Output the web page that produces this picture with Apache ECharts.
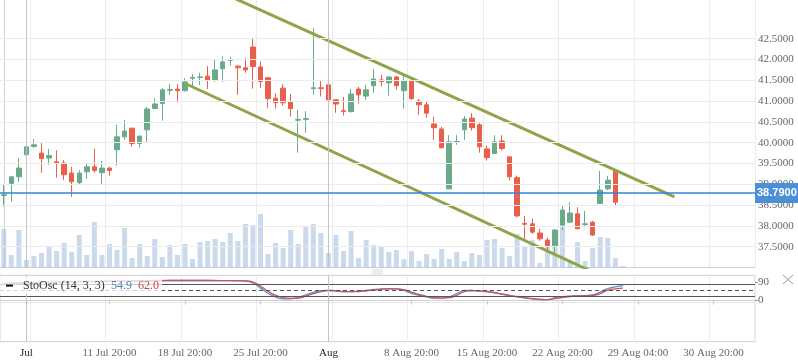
<!DOCTYPE html>
<html><head><meta charset="utf-8">
<script src="https://cdn.jsdelivr.net/npm/echarts@6/dist/echarts.min.js"></script>
<style>html,body{margin:0;padding:0;background:#fff}#c{width:798px;height:363px}</style>
</head><body><div id="c"></div>
<script>
// ---- data ----
const openP  = [38.73,39.02,39.18,39.71,39.91,39.75,39.63,39.54,39.51,39.27,39.04,39.30,39.42,39.28,39.39,39.83,40.14,40.35,39.98,40.31,40.82,40.94,41.26,41.29,41.25,41.55,41.57,41.60,41.51,41.78,41.98,41.84,41.80,42.30,41.82,41.56,41.07,41.31,40.98,40.54,40.56,41.30,41.32,41.39,41.03,40.77,40.75,41.29,41.12,41.37,41.51,41.44,41.58,41.25,41.48,41.00,40.91,40.45,40.33,38.89,40.01,40.31,40.59,40.43,39.85,39.74,40.04,39.66,39.16,38.06,38.05,37.83,37.66,37.52,38.02,38.09,38.29,38.03,38.09,38.54,38.89,39.32];
const closeP = [38.75,39.18,39.39,39.90,39.95,39.62,39.69,39.52,39.23,39.06,39.27,39.42,39.33,39.39,39.33,40.14,40.28,39.98,40.16,40.81,40.93,41.27,41.28,41.25,41.46,41.57,41.58,41.51,41.75,41.94,42.00,41.80,41.75,41.83,41.47,41.06,40.96,40.96,40.82,40.56,40.58,41.32,41.30,41.03,40.93,40.75,41.17,41.15,41.27,41.53,41.47,41.58,41.37,41.48,41.06,40.91,40.71,40.36,39.88,40.02,40.03,40.57,40.36,39.90,39.64,40.02,39.86,39.18,38.24,38.04,37.85,37.69,37.52,37.90,38.38,38.31,37.93,38.05,37.78,38.86,39.10,38.57];
const lowP   = [38.46,38.58,39.06,39.25,39.88,39.28,39.47,39.16,39.10,38.70,38.99,39.13,39.28,39.01,39.21,39.45,40.07,39.90,39.88,40.02,40.82,40.53,41.15,40.96,41.23,41.35,41.39,41.29,41.46,41.46,41.85,41.15,41.68,41.30,41.31,40.84,40.82,40.89,40.63,39.76,40.24,41.15,41.11,40.96,40.72,40.65,40.72,40.94,41.03,41.20,41.35,41.13,41.28,40.82,41.03,40.67,40.60,40.07,39.86,38.89,39.95,40.07,40.29,39.76,39.57,39.74,39.81,39.09,38.21,37.66,37.81,37.64,37.42,37.30,37.90,38.09,37.93,37.97,37.76,38.54,38.86,38.50];
const highP  = [39.00,39.18,39.63,39.99,40.09,39.99,39.85,39.82,39.58,39.42,39.34,39.51,39.85,39.56,39.42,40.43,40.55,40.35,40.16,40.86,41.07,41.31,41.41,41.41,41.55,41.65,41.68,41.84,41.99,42.08,42.07,41.87,42.04,42.52,41.96,41.56,41.19,41.41,41.17,40.79,40.76,42.76,41.51,41.63,41.03,41.10,41.29,41.34,41.39,41.77,41.63,41.60,41.60,41.60,41.53,41.05,41.00,40.62,40.38,40.18,40.18,40.64,40.71,40.47,39.93,40.18,40.18,39.66,39.21,38.24,38.17,37.93,37.71,37.93,38.50,38.57,38.45,38.36,38.12,39.32,39.20,39.34];
const volume = [385,125,375,75,115,145,215,165,245,155,325,125,455,125,235,175,395,95,235,115,285,105,225,125,235,85,255,265,285,255,345,265,435,425,535,135,245,195,375,235,415,435,345,145,325,165,365,95,275,225,215,155,175,85,165,65,135,85,185,85,155,65,145,125,275,285,195,115,335,215,275,45,245,375,425,65,255,65,195,305,295,95,15];
const stochK = [86,87,88,89,90,91,92,93,93,94,95,95,96,96,97,97,98,98,99,99,100,100,100,100,100,100,100,100,99,99,99,98,97,88,62,36,18,8,9,16,28,40,49,51,47,44,44,47,51,55,58,59,58,50,36,26,18,12,12,18,34,50,50,47,44,38,31,24,18,12,8,5,4,14,19,22,24,24,28,42,60,68,74];
const stochD = [84,86,87,88,89,90,91,92,92,93,94,94,95,95,96,96,97,97,98,98,99,99,100,100,100,100,100,100,100,99,99,99,98,92,72,46,26,14,10,12,22,34,44,50,49,45,44,45,48,52,56,58,58,54,42,30,21,14,12,14,26,44,49,48,45,40,33,26,20,14,10,6,4,9,15,20,22,24,25,34,52,58,62];
const priceTicks = [37.5,38.0,38.5,39.0,39.5,40.0,40.5,41.0,41.5,42.0,42.5];
const stochTicks = [0,90];
const stochLevels = [80,50,20];
const lastPrice = 38.79;
const upperChannel = [[28.0,43.68],[88.83,38.70]];
const lowerChannel = [[23.88,41.435],[84.0,36.39]];
const monthIdx = [3,43];
const tickIdx = [3,14,24,34,43,54,64,74,84,94];
const tickLabels = ['Jul','11 Jul 20:00','18 Jul 20:00','25 Jul 20:00','Aug','8 Aug 20:00','15 Aug 20:00','22 Aug 20:00','29 Aug 04:00','30 Aug 20:00'];
const nSlots = 100;
// ---------------------------------------
const categories = Array.from({length:nSlots},(_,i)=>String(i));
const candles = openP.map((o,i)=>[o,closeP[i],lowP[i],highP[i]]);
const UP='#6aaa8b', DOWN='#ea5f4c';
const SERIF='Liberation Serif';
const BLUE='#2f86dc';
const gridFn = (i)=> i%10===4;
const labFn = (i)=> tickIdx.indexOf(i)>=0;

const chart = echarts.init(document.getElementById('c'),null,{renderer:'canvas'});
chart.setOption({
  animation:false,
  backgroundColor:'#fff',
  grid:[
    {left:-1,right:43,top:0,height:267.5,show:false},
    {left:-1,right:43,top:275.3,height:66.4,show:true,borderColor:'#cfcfcf',borderWidth:1,backgroundColor:'transparent'}
  ],
  xAxis:[
    {type:'category',gridIndex:0,data:categories,boundaryGap:true,
     axisLine:{show:true,lineStyle:{color:'#cfcfcf'}},axisTick:{show:false},axisLabel:{show:false},
     splitLine:{show:true,interval:gridFn,lineStyle:{color:'#ececec',width:1}}},
    {type:'category',gridIndex:1,data:categories,boundaryGap:true,
     axisLine:{show:true,lineStyle:{color:'#cfcfcf'}},
     axisTick:{show:true,interval:labFn,alignWithLabel:true,length:4,lineStyle:{color:'#bbb'}},
     axisLabel:{show:true,interval:labFn,margin:6,fontFamily:SERIF,fontSize:11,
       formatter:(v,i)=>{const k=tickIdx.indexOf(Number(v));return k>=0?tickLabels[k]:'';},
       color:(v)=>{const n=Number(v);return monthIdx.indexOf(n)>=0?'#222':'#666';}},
     splitLine:{show:true,interval:gridFn,lineStyle:{color:'#ececec',width:1}}},
    {type:'value',gridIndex:0,min:-0.5,max:nSlots-0.5,show:false}
  ],
  yAxis:[
    {type:'value',gridIndex:0,position:'right',min:37.0,max:43.43,
     axisLine:{show:true,lineStyle:{color:'#cfcfcf'}},
     axisTick:{show:true,length:3,customValues:priceTicks,lineStyle:{color:'#999'}},
     axisLabel:{show:true,customValues:priceTicks,margin:3,fontFamily:SERIF,fontSize:11,color:'#666',
       formatter:(v)=>Number(v).toFixed(4)},
     splitLine:{show:false}},
    {type:'value',gridIndex:0,min:0,max:2675,show:false,splitLine:{show:false}},
    {type:'value',gridIndex:1,position:'right',min:-206,max:126,
     axisLine:{show:false},
     axisTick:{show:true,length:3,customValues:stochTicks,lineStyle:{color:'#999'}},
     axisLabel:{show:true,customValues:stochTicks,margin:3,fontFamily:SERIF,fontSize:11,color:'#666'},
     splitLine:{show:false}}
  ],
  series:[
    {name:'grid',type:'line',xAxisIndex:0,yAxisIndex:0,data:[],silent:true,z:0,
     markLine:{silent:true,symbol:'none',label:{show:false},animation:false,
       data:[...priceTicks.map(v=>({yAxis:v,lineStyle:{color:'#ececec',width:1,type:'solid'}})),
             ...monthIdx.map(v=>({xAxis:v,lineStyle:{color:'#c2c2c2',width:1,type:'solid'}}))]}},
    {name:'vol',type:'bar',xAxisIndex:0,yAxisIndex:1,data:volume,barWidth:5,silent:true,
     itemStyle:{color:'rgba(168,192,224,0.6)'},z:1},
    {name:'price',type:'candlestick',xAxisIndex:0,yAxisIndex:0,data:candles,barWidth:5,z:3,
     itemStyle:{color:UP,color0:DOWN,borderColor:UP,borderColor0:DOWN,borderWidth:1}},
    {name:'upper',type:'line',xAxisIndex:2,yAxisIndex:0,data:upperChannel,showSymbol:false,symbol:'none',clip:true,z:4,
     lineStyle:{color:'#8ea449',width:3}},
    {name:'lower',type:'line',xAxisIndex:2,yAxisIndex:0,data:lowerChannel,showSymbol:false,symbol:'none',clip:true,z:4,
     lineStyle:{color:'#8ea449',width:3}},
    {name:'last',type:'line',xAxisIndex:2,yAxisIndex:0,z:5,silent:true,showSymbol:false,symbol:'none',clip:false,
     data:[[-0.5,lastPrice],[nSlots-0.5,lastPrice]],
     lineStyle:{color:BLUE,width:1.4,type:'solid'},itemStyle:{color:BLUE},
     endLabel:{show:true,distance:0,formatter:(p)=>Number(p.value[1]).toFixed(4),
       backgroundColor:'#4a8fd8',color:'#fff',fontFamily:'Liberation Sans',fontSize:11,fontWeight:'bold',padding:[5,2,4,2]}},
    {name:'sgrid',type:'line',xAxisIndex:1,yAxisIndex:2,data:[],silent:true,z:0,
     markLine:{silent:true,symbol:'none',label:{show:false},animation:false,
       data:[{yAxis:-9,lineStyle:{color:'#e6e6e6',width:1,type:'solid'}},
             ...stochLevels.map(v=>({yAxis:v,lineStyle:{color:'#555',width:1,type:v===50?[4,3]:'solid'}})),
             ...monthIdx.map(v=>({xAxis:v,lineStyle:{color:'#c2c2c2',width:1,type:'solid'}}))]}},
    {name:'K',type:'line',xAxisIndex:1,yAxisIndex:2,data:stochK,showSymbol:false,smooth:true,z:3,
     lineStyle:{color:'#5a8ed0',width:1.3}},
    {name:'D',type:'line',xAxisIndex:1,yAxisIndex:2,data:stochD,showSymbol:false,smooth:true,z:3,
     lineStyle:{color:'#c9565a',width:1.3}}
  ],
  graphic:[
    {type:'rect',shape:{x:0,y:277,width:162,height:17},style:{fill:'rgba(255,255,255,0.75)'},z:50},
    {type:'rect',shape:{x:6,y:284.6,width:7,height:2},style:{fill:'#111'},z:51},
    {type:'text',x:23,y:286,style:{text:'StoOsc (14, 3, 3)',fill:'#333',font:'12px "Liberation Serif"',textVerticalAlign:'middle'},z:51},
    {type:'text',x:111,y:286,style:{text:'54.9',fill:'#4a7fc4',font:'12px "Liberation Serif"',textVerticalAlign:'middle'},z:51},
    {type:'text',x:138,y:286,style:{text:'62.0',fill:'#c9454a',font:'12px "Liberation Serif"',textVerticalAlign:'middle'},z:51},
    {type:'rect',shape:{x:372,y:269.5,width:11,height:0.8},style:{fill:'#d4d4d4'},z:50},
    {type:'rect',shape:{x:372,y:271.5,width:11,height:0.8},style:{fill:'#d4d4d4'},z:50},
    {type:'rect',shape:{x:372,y:273.5,width:11,height:0.8},style:{fill:'#d4d4d4'},z:50},
    {type:'line',shape:{x1:783,y1:275,x2:793,y2:284},style:{stroke:'#999',lineWidth:1},z:50},
    {type:'line',shape:{x1:783,y1:284,x2:793,y2:275},style:{stroke:'#999',lineWidth:1},z:50}
  ]
});
</script></body></html>
